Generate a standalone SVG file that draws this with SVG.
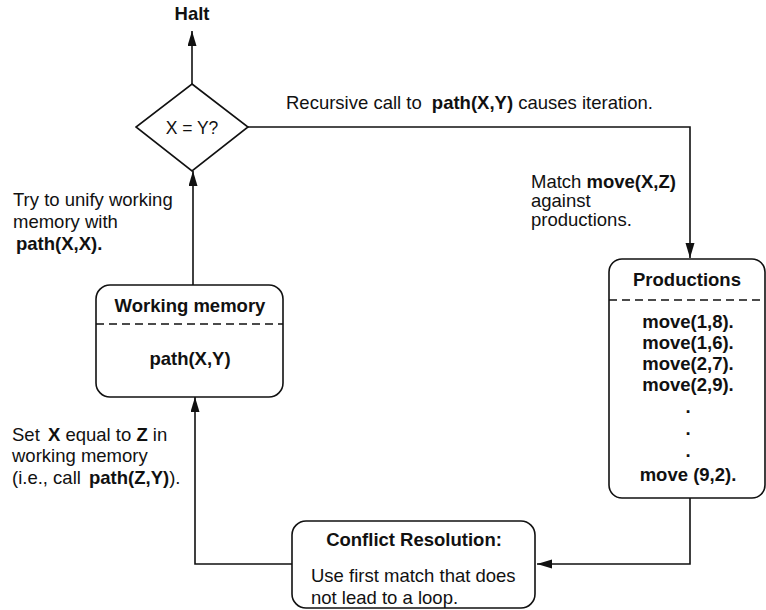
<svg xmlns="http://www.w3.org/2000/svg" width="766" height="610" viewBox="0 0 766 610">
<defs>
<marker id="arr" markerUnits="userSpaceOnUse" markerWidth="15" markerHeight="10" refX="15" refY="4.5" orient="auto">
<path d="M0,0 L15,4.5 L0,9 Z" fill="#111"/>
</marker>
<style>
text{font-family:"Liberation Sans",Arial,Helvetica,sans-serif;font-size:18.5px;fill:#111}
.b{font-weight:bold}
.c{text-anchor:middle}
.box{fill:#fff;stroke:#111;stroke-width:1.6}
.dash{stroke:#111;stroke-width:1.5;stroke-dasharray:8,5;fill:none}
.ln{fill:none;stroke:#111;stroke-width:1.6}
</style>
</defs>
<rect width="766" height="610" fill="#fff"/>
<g id="connectors">
<path class="ln" d="M192,84 L192,31" marker-end="url(#arr)"/>
<path class="ln" d="M248,127 L690,127 L690,258" marker-end="url(#arr)"/>
<path class="ln" d="M690,498 L690,564 L537,564" marker-end="url(#arr)"/>
<path class="ln" d="M292,564 L195,564 L195,397" marker-end="url(#arr)"/>
<path class="ln" d="M193,285 L193,171" marker-end="url(#arr)"/>
</g>
<g id="halt">
<text class="b c" x="192" y="20">Halt</text>
</g>
<g id="decision">
<polygon class="box" points="192,84 248,127 192,171 136,127"/>
<text class="c" x="192" y="134" style="font-size:17.5px">X = Y?</text>
</g>
<g id="label-recursive">
<text x="286" y="109">Recursive call to <tspan class="b" dx="5">path(X,Y)</tspan> causes iteration.</text>
</g>
<g id="label-match">
<text x="531" y="188">Match <tspan class="b">move(X,Z)</tspan></text>
<text x="531" y="207">against</text>
<text x="531" y="226">productions.</text>
</g>
<g id="productions">
<rect class="box" x="609" y="259" width="156" height="239" rx="13"/>
<line class="dash" x1="609" y1="300" x2="765" y2="300"/>
<text class="b c" x="687" y="286">Productions</text>
<text class="b c" x="688" y="328">move(1,8).</text>
<text class="b c" x="688" y="349">move(1,6).</text>
<text class="b c" x="688" y="370">move(2,7).</text>
<text class="b c" x="688" y="391">move(2,9).</text>
<text class="b c" x="688" y="413">.</text>
<text class="b c" x="688" y="435">.</text>
<text class="b c" x="688" y="457">.</text>
<text class="b c" x="688" y="481">move (9,2).</text>
</g>
<g id="label-unify">
<text x="13" y="206">Try to unify working</text>
<text x="13" y="228">memory with</text>
<text class="b" x="16" y="250">path(X,X).</text>
</g>
<g id="working-memory">
<rect class="box" x="96" y="285" width="187" height="112" rx="14"/>
<line class="dash" x1="96" y1="324" x2="283" y2="324"/>
<text class="b c" x="190" y="312">Working memory</text>
<text class="b c" x="190" y="365">path(X,Y)</text>
</g>
<g id="label-set">
<text x="12" y="441">Set <tspan class="b" dx="3">X</tspan> equal to <tspan class="b">Z</tspan> in</text>
<text x="12" y="462">working memory</text>
<text x="12" y="484">(i.e., call <tspan class="b" dx="3">path(Z,Y)</tspan>).</text>
</g>
<g id="conflict">
<rect class="box" x="292" y="521" width="243" height="87" rx="14"/>
<text class="b c" x="414" y="546">Conflict Resolution:</text>
<text x="311" y="582">Use first match that does</text>
<text x="311" y="604">not lead to a loop.</text>
</g>
</svg>
